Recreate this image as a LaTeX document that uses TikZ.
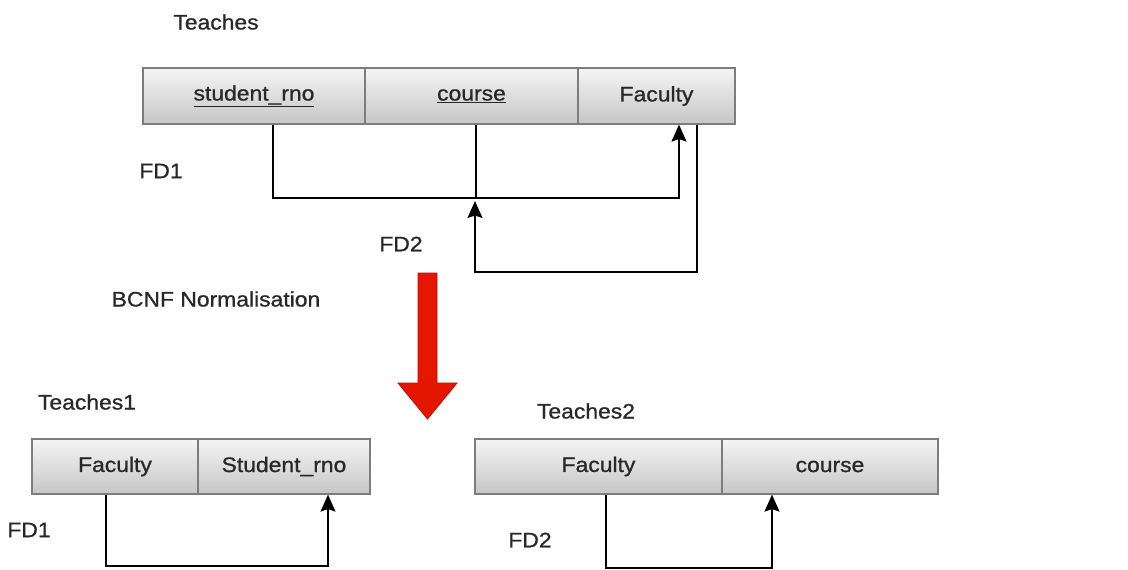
\documentclass[tikz,border=0pt]{standalone}
\usepackage{fontspec}
\setmainfont{Liberation Sans}[FakeStretch=1.09,FakeBold=0.9]
\usetikzlibrary{arrows.meta}
\definecolor{txt}{RGB}{40,40,40}
\definecolor{boxborder}{RGB}{125,125,125}
\definecolor{boxtop}{RGB}{245,245,245}
\definecolor{boxbot}{RGB}{198,198,198}
\definecolor{redfill}{RGB}{228,22,0}
\definecolor{redline}{RGB}{190,10,0}
\begin{document}
\begin{tikzpicture}[x=1pt,y=-1pt,
  font=\fontsize{21}{25}\selectfont,
  cell/.style={draw=boxborder, line width=1.2pt, top color=boxtop, bottom color=boxbot,
    minimum height=56, inner sep=0pt, text=txt},
  lbl/.style={text=txt, inner sep=0pt},
  ln/.style={line width=1.6pt, draw=black},
  arr/.style={ln, -{Stealth[length=17pt,width=15pt,inset=2.5pt]}},
  redarrow/.style={fill=redfill, draw=redline, line width=0.8pt}]
\useasboundingbox (0,0) rectangle (1128,570);

% labels
\node[lbl] (t0) at (216,22) {Teaches};
\node[lbl] (fd1a) at (161,171) {FD1};
\node[lbl] (fd2a) at (401,244) {FD2};
\node[lbl] (bcnf) at (216,299) {BCNF Normalisation};
\node[lbl] (t1) at (87,402) {Teaches1};
\node[lbl] (fd1b) at (29,530) {FD1};
\node[lbl] (t2) at (586,411) {Teaches2};
\node[lbl] (fd2b) at (530,540) {FD2};

% top relation
\node[cell, minimum width=222] (sr) at (254,96) {\underline{student\_rno}};
\node[cell, minimum width=213] (co) at (471.5,96) {\underline{course}};
\node[cell, minimum width=157] (fa) at (656.5,96) {Faculty};

% bottom relations
\node[cell, minimum width=166, minimum height=55] (f1) at (115,466.5) {Faculty};
\node[cell, minimum width=172, minimum height=55] (s1) at (284,466.5) {Student\_rno};
\node[cell, minimum width=247, minimum height=55] (f2) at (598.5,466.5) {Faculty};
\node[cell, minimum width=216, minimum height=55] (c2) at (830,466.5) {course};

% junction coordinates
\coordinate (j1) at (476,198);
\coordinate (j2) at (475,272);
\coordinate (j2t) at (475,201);
\coordinate (b1) at (217,566);
\coordinate (b2) at (690,568);

% top connectors
\draw[arr] ([xshift=19]sr.south) |- (j1) -| ([xshift=22.5]fa.south);
\draw[ln] ([xshift=4.5]co.south) -- (j1);
\draw[arr] ([xshift=40.5]fa.south) |- (j2) -- (j2t);

% bottom connectors
\draw[arr] ([xshift=-9]f1.south) |- (b1) -| ([xshift=44]s1.south);
\draw[arr] ([xshift=7.5]f2.south) |- (b2) -| ([xshift=-58]c2.south);

% red arrow
\filldraw[redarrow] (418,273) -- (437,273) -- (437,383) -- (457,383) -- (427.5,419)
  -- (398,383) -- (418,383) -- cycle;
\end{tikzpicture}
\end{document}
